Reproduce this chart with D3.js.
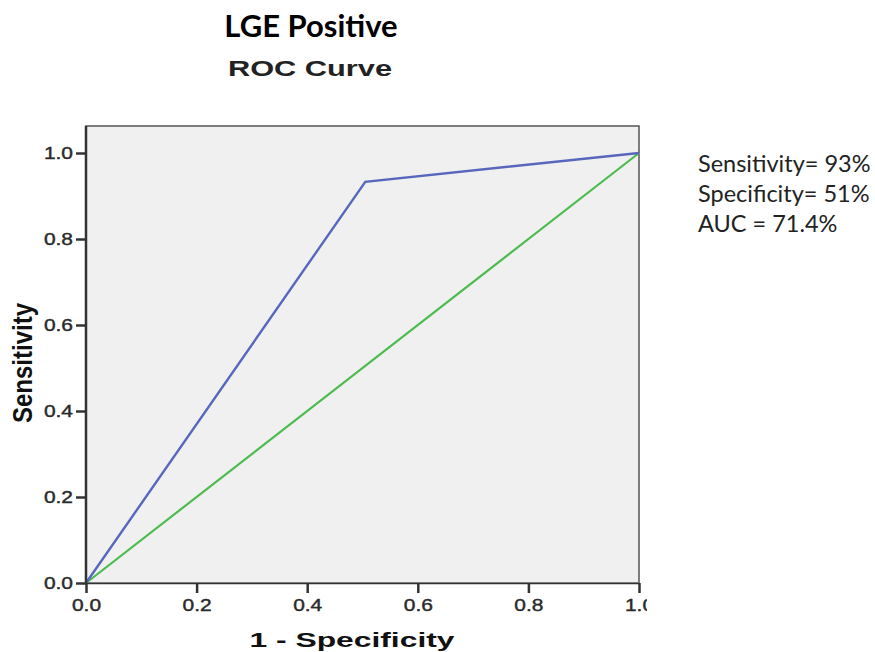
<!DOCTYPE html>
<html>
<head>
<meta charset="utf-8">
<script src="https://cdn.jsdelivr.net/npm/d3@7"></script>
<style>
  body { margin: 0; background: #fff; }
  svg { display: block; }
</style>
</head>
<body>
<div id="chart"></div>
<script>
// data
var rocX = [0, 0.505, 1];
var rocY = [0, 0.933, 1];
var refX = [0, 1];
var refY = [0, 1];
var tickValues = [0, 0.2, 0.4, 0.6, 0.8, 1.0];
var statLines = ["Sensitivity= 93%", "Specificity= 51%", "AUC = 71.4%"];

var width = 875, height = 652;
var left = 86, right = 639, top0 = 583, top1 = 153, boxTop = 126;
var stretch = 1.27; // the source picture is stretched sideways

var svg = d3.select("#chart").append("svg")
    .attr("width", width)
    .attr("height", height);

var xScale = d3.scaleLinear().domain([0, 1]).range([left, right]);
var yScale = d3.scaleLinear().domain([0, 1]).range([top0, top1]);

// plot box
svg.append("rect")
    .attr("x", left)
    .attr("y", boxTop)
    .attr("width", right - left)
    .attr("height", top0 - boxTop)
    .attr("fill", "#f0f0f0")
    .attr("stroke", "#555")
    .attr("stroke-width", 1.5);

var line = d3.line()
    .x(function(d) { return xScale(d[0]); })
    .y(function(d) { return yScale(d[1]); });

// diagonal reference
svg.append("path")
    .datum(refX.map(function(v, i) { return [v, refY[i]]; }))
    .attr("d", line)
    .attr("fill", "none")
    .attr("stroke", "#4dbb4f")
    .attr("stroke-width", 2.2);

svg.append("path")
    .datum(rocX.map(function(v, i) { return [v, rocY[i]]; }))
    .attr("d", line)
    .attr("fill", "none")
    .attr("stroke", "#5867bd")
    .attr("stroke-width", 2.4);

// clip so the last x label is cut like the reference
svg.append("clipPath").attr("id", "cut")
    .append("rect").attr("x", 0).attr("y", 0).attr("width", 647).attr("height", height);

var x_axis = d3.axisBottom(xScale)
    .tickValues(tickValues)
    .tickFormat(d3.format(".1f"))
    .tickSize(10)
    .tickPadding(6);

var gx = svg.append("g")
    .attr("transform", "translate(0," + top0 + ")")
    .attr("clip-path", "url(#cut)")
    .call(x_axis);

var y_axis = d3.axisLeft(yScale)
    .tickValues(tickValues)
    .tickFormat(d3.format(".1f"))
    .tickSize(10)
    .tickPadding(3);

var gy = svg.append("g")
    .attr("transform", "translate(" + left + ",0)")
    .call(y_axis);

[gx, gy].forEach(function(g) {
    g.select(".domain").attr("stroke", "#333").attr("stroke-width", 2.5);
    g.selectAll(".tick line").attr("stroke", "#333").attr("stroke-width", 2.5);
    g.selectAll(".tick text")
        .attr("fill", "#2a2a2a")
        .attr("stroke", "#2a2a2a")
        .attr("stroke-width", 0.4)
        .attr("font-family", "'Liberation Sans', Arial, sans-serif")
        .attr("font-size", 16.5)
        .attr("transform", "scale(" + stretch + ",1)");
});
gy.selectAll(".tick text").attr("x", -13 / stretch);
gx.select(".domain").attr("d", "M" + left + ",0H" + right);
gy.select(".domain").attr("d", "M0," + boxTop + "V" + top0);

// titles
svg.append("text")
    .attr("x", 311).attr("y", 37)
    .attr("text-anchor", "middle")
    .style("font-family", "Lato, 'Open Sans', sans-serif")
    .style("font-weight", "bold")
    .style("font-size", "31px")
    .text("LGE Positive");

svg.append("text")
    .attr("x", 310).attr("y", 76)
    .attr("text-anchor", "middle")
    .attr("textLength", 164)
    .attr("lengthAdjust", "spacingAndGlyphs")
    .style("font-family", "'Liberation Sans', Arial, sans-serif")
    .style("font-weight", "bold")
    .style("font-size", "22px")
    .attr("fill", "#222")
    .text("ROC Curve");

svg.append("text")
    .attr("x", 352).attr("y", 647)
    .attr("text-anchor", "middle")
    .attr("textLength", 205)
    .attr("lengthAdjust", "spacingAndGlyphs")
    .style("font-family", "'Liberation Sans', Arial, sans-serif")
    .style("font-weight", "bold")
    .style("font-size", "20px")
    .attr("fill", "#111")
    .text("1 - Specificity");

svg.append("text")
    .attr("transform", "translate(32,363) rotate(-90)")
    .attr("text-anchor", "middle")
    .attr("textLength", 120)
    .attr("lengthAdjust", "spacingAndGlyphs")
    .style("font-family", "'Liberation Sans', Arial, sans-serif")
    .style("font-weight", "bold")
    .style("font-size", "27px")
    .attr("fill", "#111")
    .text("Sensitivity");

// stats
svg.selectAll(".stat")
    .data(statLines)
    .enter().append("text")
    .attr("class", "stat")
    .attr("x", 698)
    .attr("y", function(d, i) { return 172 + i * 30; })
    .style("font-family", "Lato, 'Open Sans', sans-serif")
    .style("font-size", "23.5px")
    .attr("fill", "#222")
    .text(function(d) { return d; });
</script>
</body>
</html>
